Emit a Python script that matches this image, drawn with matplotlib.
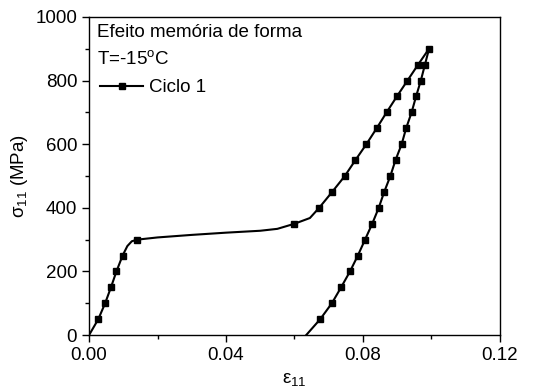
import matplotlib
matplotlib.use("Agg")
import matplotlib.pyplot as plt
from matplotlib.ticker import MultipleLocator, FormatStrFormatter

plt.rcParams['font.family'] = ['Liberation Sans', 'DejaVu Sans']
plt.rcParams['mathtext.fontset'] = 'custom'
plt.rcParams['mathtext.rm'] = 'Liberation Sans'
plt.rcParams['mathtext.it'] = 'Liberation Sans'

# Loading branch (strain, stress MPa)
load_strain = [0.0, 0.0027, 0.0047, 0.0064, 0.0080, 0.0098, 0.0112, 0.0125, 0.0140,
               0.0200, 0.0300, 0.0400, 0.0500, 0.0550, 0.0600, 0.0645,
               0.0672, 0.0710, 0.0747, 0.0778, 0.0810, 0.0840, 0.0869,
               0.0899, 0.0930, 0.0961, 0.0993]
load_stress = [0, 50, 100, 150, 200, 250, 280, 295, 300,
               307, 315, 322, 328, 334, 350, 368,
               400, 450, 500, 550, 600, 650, 700,
               750, 800, 850, 900]
load_marks = [1, 2, 3, 4, 5, 8, 14, 16, 17, 18, 19, 20, 21, 22, 23, 24, 25, 26]

# Unloading branch
unload_strain = [0.0993, 0.0981, 0.0969, 0.0955, 0.0942, 0.0926, 0.0913,
                 0.0895, 0.0880, 0.0862, 0.0846, 0.0827, 0.0806, 0.0785,
                 0.0762, 0.0736, 0.0709, 0.0675, 0.0634]
unload_stress = [900, 850, 800, 750, 700, 650, 600,
                 550, 500, 450, 400, 350, 300, 250,
                 200, 150, 100, 50, 0]
unload_marks = list(range(1, 18))

fig = plt.figure(figsize=(5.33, 3.92), dpi=100)
ax = fig.add_axes([0.167, 0.145, 0.771, 0.812])

ax.plot(load_strain, load_stress, color='black', lw=1.5, marker='s', ms=5,
        markevery=load_marks, label='Ciclo 1')
ax.plot(unload_strain, unload_stress, color='black', lw=1.5, marker='s', ms=5,
        markevery=unload_marks)

ax.set_xlim(0, 0.12)
ax.set_ylim(0, 1000)
ax.xaxis.set_major_locator(MultipleLocator(0.04))
ax.xaxis.set_minor_locator(MultipleLocator(0.02))
ax.yaxis.set_major_locator(MultipleLocator(200))
ax.yaxis.set_minor_locator(MultipleLocator(100))
ax.xaxis.set_major_formatter(FormatStrFormatter('%.2f'))
ax.tick_params(which='major', direction='out', length=5, width=1, labelsize=13.5)
ax.tick_params(which='minor', direction='out', length=3, width=1)
for s in ax.spines.values():
    s.set_linewidth(1)

ax.set_xlabel(r'ε$_{11}$', fontsize=13.5, labelpad=5)
ax.set_ylabel(r'σ$_{11}$ (MPa)', fontsize=13.5, labelpad=4)

ax.text(0.02, 0.978, 'Efeito memória de forma', transform=ax.transAxes,
        fontsize=13.5, va='top', ha='left')
ax.text(0.02, 0.895, r'T=-15$^{\rm o}$C', transform=ax.transAxes,
        fontsize=13.5, va='top', ha='left')
ax.legend(loc='upper left', bbox_to_anchor=(-0.005, 0.845), frameon=False,
          fontsize=13.5, handlelength=2.3, handletextpad=0.3, borderpad=0.2)

fig.savefig('out.png', dpi=100)
